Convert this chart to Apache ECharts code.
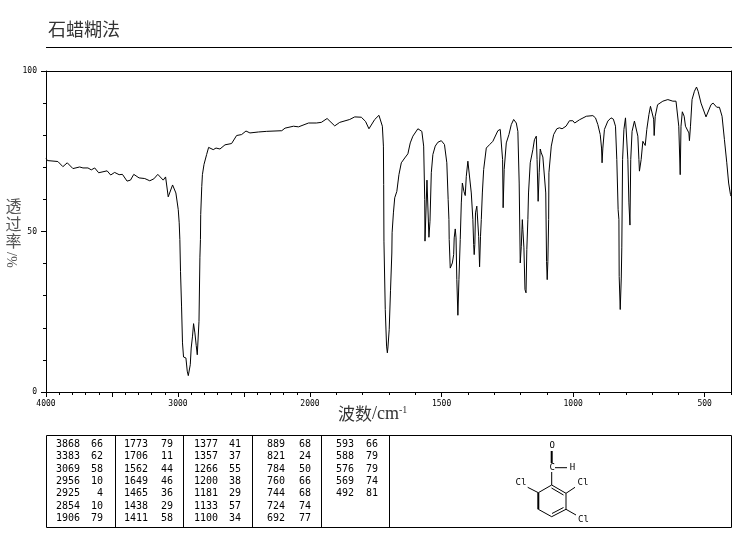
<!DOCTYPE html>
<html><head><meta charset="utf-8">
<style>html,body{margin:0;padding:0;background:#fff}#c{width:737px;height:539px}</style>
<script src="https://cdn.jsdelivr.net/npm/echarts@6/dist/echarts.min.js"></script>
</head><body><div id="c"></div>
<script>
const titleText = '石蜡糊法';
const traceHigh = [[4000,72.9],[3990,72.1],[3910,71.8],[3872,70.2],[3839,71.4],[3796,69.6],[3745,70.1],[3720,69.8],[3682,69.8],[3657,69.2],[3631,69.8],[3601,68.3],[3537,68.9],[3510,67.6],[3480,68.4],[3446,67.7],[3421,67.8],[3386,65.7],[3360,66],[3335,67.8],[3295,66.7],[3252,66.5],[3214,65.8],[3183,66.4],[3153,67.8],[3112,66],[3094,67],[3074,60.8],[3062,61.2],[3041,64.5],[3031,64.8],[3016,62],[2998,56.8],[2991,52.7],[2986,47.5],[2981,37.6],[2973,26.5],[2966,15.3],[2958,10.9],[2940,10.6],[2930,6.5],[2922,5.1],[2915,5.4],[2907,8.5],[2900,13.7],[2890,17.4],[2882,21.3],[2877,21.5],[2872,18.4],[2862,14.5],[2854,11.6],[2847,11.9],[2841,22],[2834,42],[2830,47.5],[2828,55.3],[2820,64],[2815,67.7],[2803,70.9],[2783,74],[2768,76.2],[2733,75.5],[2712,76],[2682,75.7],[2644,77],[2594,77.4],[2556,79.9],[2518,80.2],[2485,81.3],[2455,80.7],[2391,81],[2328,81.2],[2214,81.4],[2189,82.2],[2125,82.8],[2087,82.6],[2011,83.8],[2000,83.8]];
const traceLow = [[2000,83.8],[1976,83.8],[1957,84],[1935,85.2],[1906,82.9],[1887,84],[1849,84.9],[1830,85.7],[1805,85.6],[1789,84.3],[1776,82],[1773,81.8],[1754,84.9],[1738,86.2],[1732,85.9],[1725,82.8],[1721,76.6],[1720,64.6],[1719,47],[1714,25.7],[1709,14.3],[1706,12.2],[1704,13.7],[1699,19.4],[1694,31.7],[1689,43.3],[1688,49.6],[1683,55.8],[1678,60.5],[1670,62.5],[1662,67.7],[1653,71.4],[1640,72.9],[1628,74.2],[1619,77.6],[1609,79.7],[1590,82],[1583,82.4],[1575,81.2],[1568,76.6],[1564,60],[1563,47],[1555.5,66],[1548,48.2],[1544,53.2],[1539,68.3],[1533,74],[1524,76.6],[1514,77.8],[1501,78.3],[1489,77.1],[1480,71.4],[1475,60],[1472,53.7],[1471,47.5],[1467,38.6],[1463,38.1],[1459,40.2],[1454,42.8],[1452,48],[1448,50.8],[1445,48],[1442,35],[1438,23.9],[1434,35],[1429,47.5],[1425,58.9],[1421,65.1],[1415,62.5],[1410,61.2],[1406,67.2],[1400,71.9],[1394,72.1],[1387,62],[1381,53.7],[1378,45.9],[1376,42.8],[1373.6,45.9],[1371,55.8],[1366,57.9],[1362,57.9],[1359,48.5],[1355.5,39],[1352,48.5],[1349,53.7],[1345,62],[1340,69.3],[1330,76],[1317,77.1],[1305,78.1],[1286,81.4],[1277,81.8],[1272,81.2],[1268,72.4],[1266,57.4],[1262,69.3],[1254,77.6],[1244,80.2],[1235,83.3],[1226,84.9],[1216,83.8],[1210,81.2],[1205,65.1],[1201,40.2],[1197,45.4],[1193,53.7],[1191,50.6],[1187,44.9],[1183,31.9],[1179,30.9],[1176,44.4],[1172,53.7],[1169.5,62],[1163,71.4],[1153,75.5],[1147,78.6],[1140,79.7],[1137,72.4],[1133,59.4],[1129,68.3],[1125,75.7],[1121,74.5],[1115,73.2],[1109,72.6],[1104,62],[1101,40.7],[1098.5,35],[1096,40.7],[1093,53.7],[1092,68.3],[1083,76.6],[1074,80.2],[1062,82],[1052,82.3],[1042,82],[1027,82.8],[1014,84.5],[1001,84.5],[994,83.8],[976,84.8],[950,85.9],[925,86.1],[915,85.4],[906,83.3],[897,80.2],[892,76],[890,71.4],[887,76],[881,81.8],[868,84.4],[856,85.4],[847,85],[839,82.8],[834,72.4],[829,56.8],[826,53.7],[825,36],[821,25.7],[817,35.5],[815,44.9],[812,72.4],[807,81.8],[801,85.4],[797,84.9],[792,72.4],[788,58.9],[784,52],[781,72.4],[776,81.2],[767,84.4],[761,84.4],[754,79.7],[750,72.4],[748,68.8],[741.5,72.4],[735,78.1],[726,76.8],[720,81.8],[712,86.4],[706,89],[700,89],[694,85],[692,79.9],[688,85.9],[685,85.9],[679,89.5],[659,90.6],[640,91.1],[621,90.6],[609,90.6],[602,91.1],[598.5,82.8],[593,67.7],[590,82.8],[585,87.3],[578,85.9],[573,82.8],[568,82.3],[560,80.7],[558,78.3],[554,82.8],[548,91.1],[539,93.7],[531,95],[525,93.7],[514,90],[495,85.7],[488,85.9],[476,89.5],[468,90],[454,88.7],[444,88.7],[434,85.9],[425,78.6],[416,71.4],[409,65.1],[402,61.5],[400,61]];
const peakWaves = [[3868,3383,3069,2956,2925,2854,1906],[1773,1706,1562,1649,1465,1438,1411],[1377,1357,1266,1200,1181,1133,1100],[889,821,784,760,744,724,692],[593,588,576,569,492]];
const peakValues = [[66,62,58,10,4,10,79],[79,11,44,46,36,29,58],[41,37,55,38,29,57,34],[68,24,50,66,68,74,77],[66,79,79,74,81]];
const highMajor = [4000,3000,2000];
const lowMajor = [1500,1000,500];
const yTickLabels = [0,50,100];

const mono = '"DejaVu Sans Mono", monospace';
const cjk = '"Noto Sans CJK SC", sans-serif';
const serif = '"Liberation Serif", serif';
const black = {color:'#000',width:1};
const colX = [[56,103],[124,173],[194,241],[267,311],[336,378]];
const rowY = [444.7,456.8,469,481,493.5,506,518];

const g = [];
const line = (x1,y1,x2,y2,w=1)=>g.push({type:'line',silent:true,shape:{x1,y1,x2,y2},style:{stroke:'#000',lineWidth:w}});
const text = (x,y,t,font,align='left',fill='#000')=>g.push({type:'text',silent:true,x,y,style:{text:t,font,fill,textAlign:align,textVerticalAlign:'middle'}});

line(46,47.5,732,47.5);
g.push({type:'rect',silent:true,shape:{x:46.5,y:435.5,width:685,height:92},style:{fill:'none',stroke:'#000',lineWidth:1}});
[115.5,183.5,252.5,321.5,389.5].forEach(x=>line(x,435,x,527));
peakWaves.forEach((col,i)=>col.forEach((w,j)=>{
  text(colX[i][0],rowY[j],String(w),'10px '+mono);
  text(colX[i][1],rowY[j],String(peakValues[i][j]),'10px '+mono,'right');
}));
line(551.7,451,551.7,463,2);
line(555,467.7,567,467.7);
line(551.7,472,551.7,485);
line(551.7,485,566,493.3);line(551.5,488,563.5,495);
line(566,493.3,566,509.3);
line(566,509.3,551.7,516.7);line(563.5,507.5,552,513.5);
line(551.7,516.7,538.3,509.3);
line(538.3,509.3,538.3,492.7,2);
line(538.3,492.7,551.7,485);
line(538.3,492.7,527.7,487.3);
line(566,493.3,575,487.3);
line(566,509.3,576,515);
const small='9px '+mono;
text(552.3,445.7,'O',small,'center');
text(552.3,467.7,'C',small,'center');
text(572.5,467.7,'H',small,'center');
text(521,482.3,'Cl',small,'center');
text(583,482.3,'Cl',small,'center');
text(583.5,519.3,'Cl',small,'center');
text(48,29.5,titleText,'18px '+cjk,'left','#333');
text(13.5,206,'透','16px '+cjk,'center','#555');
text(13.5,224,'过','16px '+cjk,'center','#555');
text(13.5,241,'率','16px '+cjk,'center','#555');
g.push({type:'text',silent:true,x:13.5,y:260,rotation:Math.PI/2,style:{text:'%/',font:'14px '+serif,fill:'#555',textAlign:'center',textVerticalAlign:'middle'}});
g.push({type:'text',silent:true,x:338,y:414,style:{
  text:'{a|波数}{c|/cm}{b|-1}',textVerticalAlign:'middle',
  rich:{a:{font:'17px '+cjk,fill:'#333'},c:{font:'18px '+serif,fill:'#333'},b:{font:'10px '+serif,fill:'#333',verticalAlign:'top',padding:[0,0,8,0]}}}});

const plain = v=>String(v);
const noLabel = {show:false};
const chart = echarts.init(document.getElementById('c'),null,{renderer:'canvas'});
chart.setOption({
  animation:false,
  grid:[
    {left:46,top:71,width:264,height:321},
    {left:310,top:71,width:421,height:321}
  ],
  xAxis:[
    {gridIndex:0,type:'value',position:'bottom',inverse:true,min:2000,max:4000,interval:500,splitLine:{show:false},
      axisLine:{lineStyle:black},axisTick:{length:5,lineStyle:black},
      minorTick:{show:true,splitNumber:5,length:3,lineStyle:black},
      axisLabel:{customValues:highMajor,formatter:plain,margin:8,fontFamily:mono,fontSize:8,color:'#000',hideOverlap:false}},
    {gridIndex:0,type:'value',position:'top',inverse:true,min:2000,max:4000,splitLine:{show:false},
      axisLine:{lineStyle:black},axisTick:{show:false},axisLabel:noLabel},
    {gridIndex:1,type:'value',position:'bottom',inverse:true,min:400,max:2000,interval:100,splitLine:{show:false},
      axisLine:{lineStyle:black},axisTick:{length:3,lineStyle:black},axisLabel:noLabel},
    {gridIndex:1,type:'value',position:'bottom',inverse:true,min:400,max:2000,splitLine:{show:false},
      axisLine:{show:false},axisTick:{show:true,length:5,customValues:lowMajor,lineStyle:black},
      axisLabel:{customValues:lowMajor,formatter:plain,margin:8,fontFamily:mono,fontSize:8,color:'#000'}},
    {gridIndex:1,type:'value',position:'top',inverse:true,min:400,max:2000,splitLine:{show:false},
      axisLine:{lineStyle:black},axisTick:{show:false},axisLabel:noLabel}
  ],
  yAxis:[
    {gridIndex:0,type:'value',position:'left',min:0,max:100,interval:50,splitLine:{show:false},
      axisLine:{lineStyle:black},axisTick:{length:5,lineStyle:black},
      minorTick:{show:true,splitNumber:5,length:3,lineStyle:black},
      axisLabel:{customValues:yTickLabels,margin:9,padding:[2,0,0,0],fontFamily:mono,fontSize:8,color:'#000'}},
    {gridIndex:1,type:'value',position:'right',min:0,max:100,splitLine:{show:false},
      axisLine:{lineStyle:black},axisTick:{show:false},axisLabel:noLabel}
  ],
  series:[
    {type:'line',xAxisIndex:0,yAxisIndex:0,data:traceHigh,showSymbol:false,symbol:'none',lineStyle:{color:'#000',width:1},silent:true},
    {type:'line',xAxisIndex:2,yAxisIndex:1,data:traceLow,showSymbol:false,symbol:'none',lineStyle:{color:'#000',width:1},silent:true}
  ],
  graphic:{elements:g}
});
</script></body></html>
